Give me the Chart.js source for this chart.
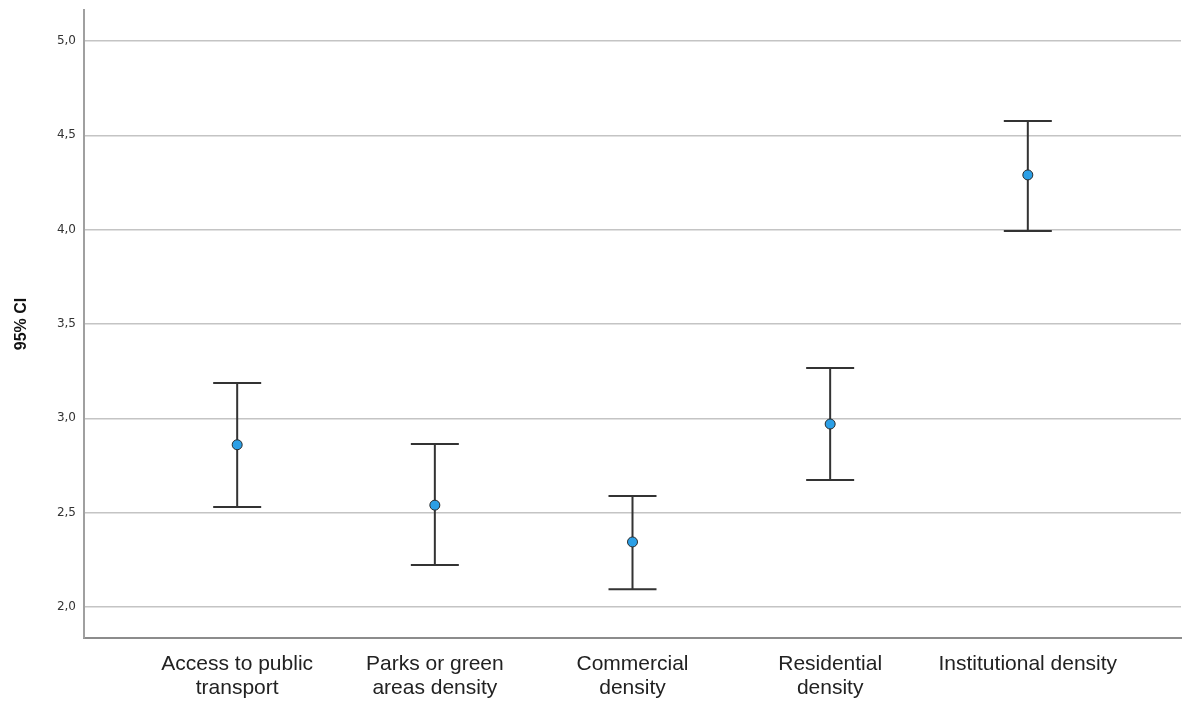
<!DOCTYPE html>
<html>
<head>
<meta charset="utf-8">
<script src="https://cdn.jsdelivr.net/npm/chart.js@4/dist/chart.umd.min.js"></script>
<style>
  html, body { margin: 0; padding: 0; background: #fff; }
  #wrap { width: 1187px; height: 702px; }
</style>
</head>
<body>
<div id="wrap"><canvas id="ciChart"></canvas></div>
<script>
// categories and values
const categories = [
    ['Access to public', 'transport'],
    ['Parks or green', 'areas density'],
    ['Commercial', 'density'],
    ['Residential', 'density'],
    ['Institutional density']
];
const means = [2.86, 2.54, 2.345, 2.97, 4.29];
const lower = [2.53, 2.223, 2.095, 2.673, 3.993];
const upper = [3.187, 2.864, 2.588, 3.267, 4.576];
const yTicks = [2.0, 2.5, 3.0, 3.5, 4.0, 4.5, 5.0];

// error bars drawn with the chart's own scales
const errorBars = {
    id: 'errorBars',
    beforeDatasetsDraw(chart) {
        const ctx = chart.ctx;
        const xs = chart.scales.x;
        const ys = chart.scales.y;
        ctx.save();
        ctx.strokeStyle = '#333333';
        ctx.lineWidth = 2;
        for (let i = 0; i < means.length; i++) {
            const x = xs.getPixelForValue(i);
            const yl = ys.getPixelForValue(lower[i]);
            const yu = ys.getPixelForValue(upper[i]);
            const cap = 24;
            ctx.beginPath();
            ctx.moveTo(x, yu); ctx.lineTo(x, yl);
            ctx.moveTo(x - cap, yu); ctx.lineTo(x + cap, yu);
            ctx.moveTo(x - cap, yl); ctx.lineTo(x + cap, yl);
            ctx.stroke();
        }
        ctx.restore();
    }
};

const ctx = document.getElementById('ciChart').getContext('2d');
new Chart(ctx, {
    type: 'scatter',
    data: {
        datasets: [{
            data: means.map((m, i) => ({ x: i, y: m })),
            backgroundColor: '#2b9fe6',
            borderColor: '#2a2a2a',
            borderWidth: 1,
            pointRadius: 5,
            pointHoverRadius: 5
        }]
    },
    options: {
        responsive: true,
        maintainAspectRatio: false,
        animation: false,
        layout: { padding: { top: 10, right: 6, left: 0, bottom: 0 } },
        plugins: {
            legend: { display: false },
            tooltip: { enabled: false }
        },
        scales: {
            x: {
                type: 'linear',
                min: -0.775,
                max: 4.775,
                afterBuildTicks(scale) {
                    scale.ticks = categories.map((c, i) => ({ value: i }));
                },
                afterFit(scale) {
                    scale.height = 64;
                    scale.paddingLeft = 0;
                    scale.paddingRight = 0;
                },
                ticks: {
                    autoSkip: false,
                    maxRotation: 0,
                    padding: 14,
                    color: '#222222',
                    font: { family: 'Liberation Sans, Arial, sans-serif', size: 21, lineHeight: 1.15 },
                    callback: (v) => categories[v]
                },
                grid: { display: false, drawTicks: false },
                border: { display: true, color: '#8c8c8c', width: 2 }
            },
            y: {
                min: 1.836,
                max: 5.164,
                afterBuildTicks(scale) {
                    scale.ticks = yTicks.map(v => ({ value: v }));
                },
                afterFit(scale) {
                    scale.width = 84;
                    scale.paddingTop = 0;
                    scale.paddingBottom = 0;
                },
                ticks: {
                    padding: 8,
                    color: '#333333',
                    font: { family: 'DejaVu Sans, sans-serif', size: 12 },
                    callback: (v) => v.toFixed(1).replace('.', ',')
                },
                grid: { color: '#c4c4c4', lineWidth: 1.5, drawTicks: false },
                border: { display: true, color: '#a0a0a0', width: 2 },
                title: {
                    display: true,
                    text: '95% CI',
                    color: '#111111',
                    font: { family: 'Liberation Sans, Arial, sans-serif', size: 16, weight: 'bold' },
                    padding: { top: 12, bottom: 8 }
                }
            }
        }
    },
    plugins: [errorBars]
});
</script>
</body>
</html>
